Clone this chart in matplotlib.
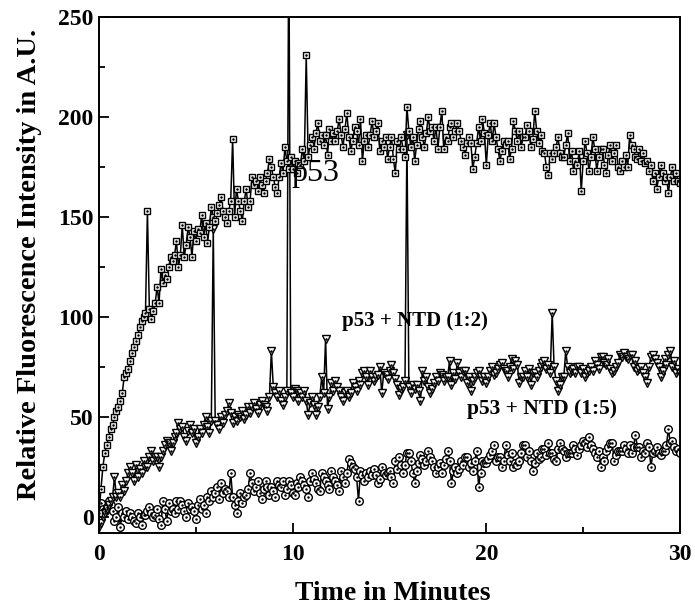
import numpy as np
import matplotlib
matplotlib.use('Agg')
import matplotlib.pyplot as plt
from matplotlib.ticker import MultipleLocator

# fluorescence readings, one row per minute (0.1 min steps), last value is t = 30
p53 = [2, 14, 25, 32, 36, 40, 44, 46, 50, 53,
       55, 58, 62, 70, 72, 74, 78, 82, 85, 88,
       91, 95, 98, 100, 102, 153, 104, 99, 103, 107,
       115, 107, 124, 117, 121, 119, 125, 130, 128, 131,
       138, 125, 131, 146, 130, 136, 145, 140, 130, 143,
       138, 144, 142, 151, 140, 147, 137, 145, 155, 150,
       148, 152, 156, 160, 153, 150, 147, 153, 158, 189,
       150, 164, 158, 153, 148, 158, 164, 155, 158, 170,
       166, 168, 163, 170, 166, 162, 168, 172, 179, 175,
       170, 165, 162, 170, 177, 172, 185, 178, 174, 180,
       174, 178, 172, 177, 176, 184, 178, 231, 180, 186,
       190, 184, 192, 197, 188, 191, 186, 191, 181, 194,
       188, 192, 188, 193, 199, 191, 185, 194, 202, 190,
       183, 188, 195, 193, 186, 199, 178, 188, 191, 185,
       191, 198, 190, 193, 197, 183, 188, 185, 190, 179,
       185, 190, 179, 172, 188, 184, 190, 184, 180, 205,
       193, 185, 190, 178, 186, 194, 198, 190, 185, 192,
       200, 193, 195, 188, 195, 184, 195, 203, 184, 190,
       188, 195, 197, 190, 193, 197, 193, 188, 185, 181,
       187, 190, 187, 174, 180, 187, 195, 188, 199, 192,
       176, 191, 197, 188, 197, 190, 184, 178, 183, 188,
       186, 188, 179, 184, 198, 193, 188, 193, 185, 190,
       190, 196, 193, 185, 189, 203, 193, 187, 191, 183,
       182, 175, 171, 182, 179, 182, 185, 190, 182, 180,
       180, 186, 192, 178, 183, 173, 178, 176, 183, 163,
       178, 188, 182, 173, 180, 190, 184, 173, 180, 184,
       184, 176, 172, 181, 186, 178, 182, 186, 175, 173,
       178, 175, 181, 175, 191, 186, 184, 180, 179, 184,
       178, 182, 177, 178, 173, 176, 168, 172, 164, 170,
       176, 172, 168, 170, 162, 170, 175, 168, 172, 168,
       167]

ntd_1_2 = [-5, -3, 0, 2, 4, 6, 8, 10, 20, 10,
           12, 10, 16, 13, 18, 22, 25, 22, 18, 26,
           20, 24, 22, 28, 25, 25, 30, 33, 28, 30,
           30, 25, 30, 33, 36, 38, 37, 33, 37, 40,
           42, 47, 44, 45, 40, 38, 43, 46, 42, 44,
           37, 40, 44, 42, 46, 50, 45, 42, 48, 144,
           48, 46, 44, 50, 47, 51, 53, 57, 52, 47,
           50, 48, 51, 50, 53, 49, 51, 55, 52, 55,
           57, 54, 52, 56, 58, 56, 55, 53, 60, 83,
           65, 62, 60, 63, 58, 56, 60, 63, 300, 62,
           60, 64, 63, 58, 62, 60, 63, 58, 51, 57,
           60, 56, 51, 55, 60, 70, 62, 89, 54, 60,
           67, 63, 68, 65, 63, 60, 58, 62, 63, 60,
           62, 67, 65, 63, 68, 66, 72, 73, 70, 66,
           73, 70, 68, 70, 71, 75, 62, 72, 71, 69,
           73, 76, 72, 69, 66, 61, 64, 65, 68, 191,
           65, 62, 66, 64, 66, 63, 58, 73, 68, 70,
           65, 62, 64, 67, 70, 68, 72, 71, 68, 70,
           70, 78, 66, 72, 69, 77, 72, 70, 73, 73,
           67, 70, 63, 68, 70, 72, 73, 70, 68, 70,
           67, 70, 73, 75, 71, 72, 74, 76, 77, 74,
           73, 70, 75, 79, 74, 78, 76, 67, 70, 70,
           73, 70, 74, 66, 72, 72, 70, 73, 75, 77,
           78, 74, 76, 72, 102, 75, 68, 63, 66, 70,
           70, 83, 75, 72, 73, 74, 72, 75, 75, 72,
           74, 70, 72, 73, 75, 73, 78, 76, 74, 80,
           80, 77, 76, 79, 74, 72, 73, 75, 77, 81,
           80, 82, 80, 79, 81, 81, 75, 78, 73, 74,
           75, 72, 70, 67, 75, 80, 81, 79, 77, 75,
           70, 73, 79, 76, 81, 83, 75, 78, 72, 74,
           72]

ntd_1_5 = [5, 7, 4, 3, 5, 8, 6, 3, -2, 0,
           5, -5, 2, 0, 3, -1, 2, 0, -2, -3,
           2, 0, -4, 1, 1, 3, 5, 2, 0, 1,
           4, -1, -4, 8, 4, -2, 7, 3, 4, 2,
           8, 4, 8, 6, 3, 0, 7, 4, 5, 3,
           -1, 6, 9, 4, 6, 2, 10, 8, 13, 10,
           12, 15, 9, 17, 12, 14, 13, 10, 22, 10,
           6, 2, 8, 12, 7, 10, 11, 14, 22, 17,
           13, 15, 18, 12, 9, 14, 18, 15, 11, 15,
           13, 10, 18, 16, 15, 18, 11, 14, 18, 16,
           12, 11, 17, 15, 20, 18, 16, 14, 10, 18,
           22, 19, 17, 14, 13, 22, 20, 18, 16, 14,
           23, 20, 18, 16, 13, 23, 20, 17, 22, 29,
           27, 25, 24, 20, 8, 23, 21, 18, 22, 20,
           23, 21, 24, 21, 17, 19, 25, 22, 21, 22,
           23, 20, 17, 28, 24, 30, 26, 22, 26, 32,
           32, 28, 22, 17, 23, 27, 31, 29, 26, 28,
           33, 30, 28, 25, 22, 25, 27, 22, 26, 29,
           33, 28, 17, 23, 25, 22, 24, 28, 26, 30,
           30, 25, 27, 23, 28, 33, 15, 22, 28, 27,
           27, 29, 31, 33, 36, 28, 30, 30, 25, 28,
           36, 31, 28, 32, 25, 27, 26, 28, 32, 36,
           36, 30, 33, 28, 23, 27, 32, 29, 30, 34,
           34, 31, 37, 32, 32, 29, 28, 34, 37, 34,
           33, 30, 32, 32, 32, 36, 34, 31, 34, 36,
           38, 37, 35, 40, 36, 34, 32, 30, 33, 25,
           30, 28, 33, 35, 37, 37, 28, 31, 33, 33,
           33, 36, 34, 32, 36, 32, 35, 41, 35, 35,
           30, 33, 32, 37, 35, 25, 32, 33, 35, 32,
           31, 33, 33, 36, 44, 37, 38, 35, 33, 34,
           32]

# sampling times in minutes
t = np.linspace(0, 30, len(p53))

plt.rcParams['font.family'] = ['Liberation Serif', 'DejaVu Serif']
plt.rcParams['font.weight'] = 'bold'

fig = plt.figure(figsize=(6.95, 6.11), dpi=100)
ax = fig.add_axes([99 / 695, 78 / 611, 581 / 695, 516 / 611])

style = dict(color='black', lw=1.1, mfc='white', mec='black', mew=1.0)
ax.plot(t, ntd_1_5, marker='o', ms=5.5, **style)
ax.plot(t, ntd_1_2, marker='v', ms=6, **style)
ax.plot(t, p53, marker='s', ms=5, **style)
# little dot in the middle of each symbol
for y in (ntd_1_5, ntd_1_2, p53):
    ax.plot(t, y, ls='none', marker='o', ms=0.8, color='black')

ax.set_xlim(0, 30)
ax.set_ylim(-8, 250)
ax.xaxis.set_major_locator(MultipleLocator(10))
ax.xaxis.set_minor_locator(MultipleLocator(5))
ax.yaxis.set_major_locator(MultipleLocator(50))
ax.yaxis.set_minor_locator(MultipleLocator(25))
ax.tick_params(which='both', direction='in', top=False, right=False, width=1.3)
ax.tick_params(which='major', length=7, labelsize=17)
ax.tick_params(axis='y', which='major', pad=4)
ax.tick_params(axis='x', which='major', pad=8)
ax.tick_params(which='minor', length=4)
for s in ax.spines.values():
    s.set_linewidth(1.4)

ax.set_xlabel('Time in Minutes', fontsize=20, fontweight='bold')
ax.xaxis.set_label_coords(0.506, -0.093)
ax.set_ylabel('Relative Fluorescence Intensity in A.U.', fontsize=20.5,
              fontweight='bold')
ax.yaxis.set_label_coords(-0.098, 0.52)

ax.text(11.2, 172, 'p53', fontsize=23, fontweight='normal', ha='center', va='center')
ax.text(16.3, 98, 'p53 + NTD (1:2)', fontsize=15, ha='center', va='center')
ax.text(22.9, 54, 'p53 + NTD (1:5)', fontsize=15.5, ha='center', va='center')

plt.savefig('out.png', dpi=100)
plt.close('all')
